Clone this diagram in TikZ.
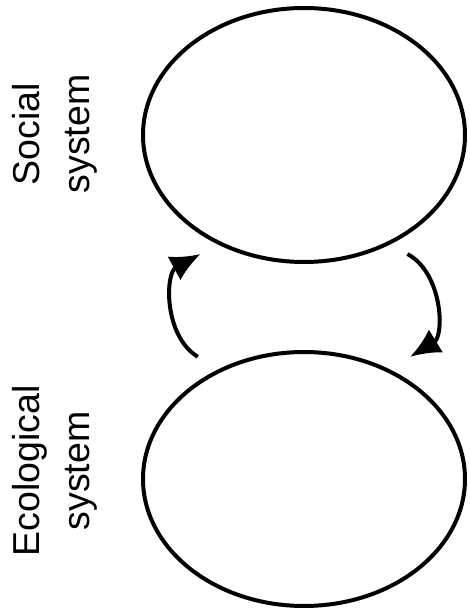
\documentclass[tikz,border=0pt]{standalone}
\usepackage{fontspec}
\setmainfont{Liberation Sans}
\usetikzlibrary{arrows.meta,shapes.geometric,calc}

\begin{document}
\begin{tikzpicture}[x=1pt,y=1pt,line width=4pt,
  system node/.style={ellipse,draw,line width=4pt,minimum width=322pt,minimum height=254pt,inner sep=0pt},
  label node/.style={rotate=90,align=center,inner sep=0pt,font=\fontsize{37.5}{50}\selectfont},
  flow/.style={line width=4pt,-{Latex[length=30pt,width=27pt]}}]

  \useasboundingbox (0,0) rectangle (469,611);

  \node[system node] (soc) at (304,476) {};
  \node[system node] (eco) at (304,132) {};
  \node[label node] (soclabel) at (55,477) {Social\\system};
  \node[label node] (ecolabel) at (55,140) {Ecological\\system};

  \draw[flow] ($(eco.center)!1.15!(eco.131)$) to[bend left=60] ($(soc.center)!1.12!(soc.229)$);
  \draw[flow] ($(soc.center)!1.12!(soc.311)$) to[bend left=60] ($(eco.center)!1.15!(eco.49)$);

\end{tikzpicture}
\end{document}
